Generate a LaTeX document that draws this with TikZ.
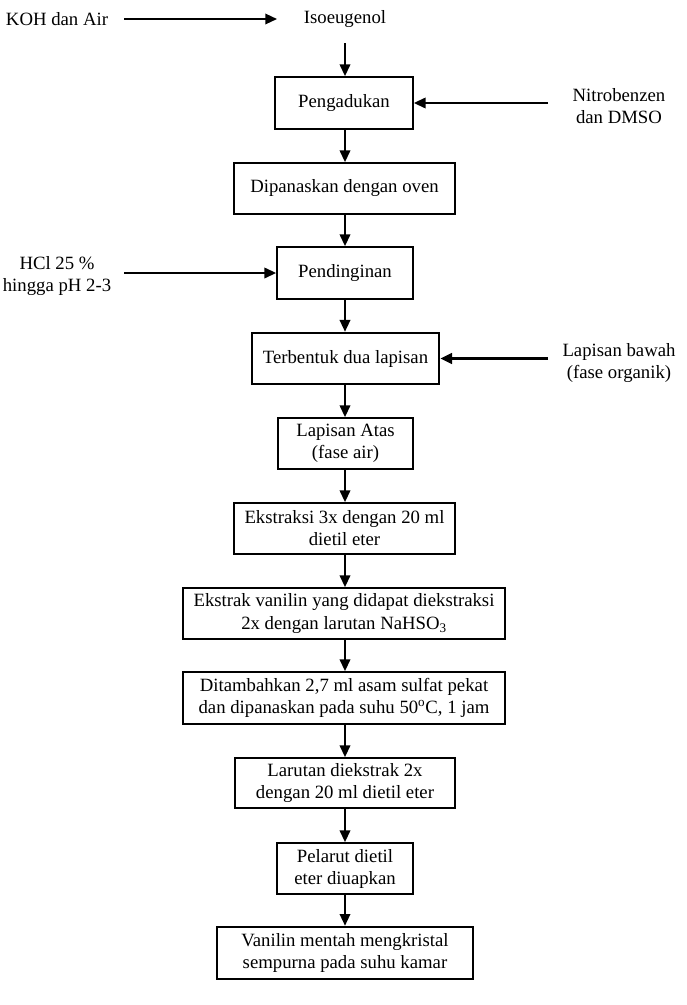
\documentclass[tikz,border=0pt]{standalone}
\usepackage{fontspec}
\setmainfont{Liberation Serif}
\usetikzlibrary{arrows.meta}

\tikzset{
  box/.style={draw, line width=1.5pt, align=center, inner sep=0pt,
    font=\fontsize{16}{18.8}\selectfont},
  boldbox/.style={box, line width=2.2pt},
  lbl/.style={align=center, inner sep=0pt, font=\fontsize{16}{18.8}\selectfont},
  arr/.style={line width=1.5pt, -{Triangle[length=10pt,width=9pt]}},
  boldarr/.style={arr, line width=2.4pt}
}

\begin{document}
\begin{tikzpicture}[x=0.03cm,y=-0.03cm]
    % Frame of the page
    \useasboundingbox (0,0) rectangle (686,1005);

    % Inputs at the top
    \node[lbl] (koh) at (57,19) {KOH dan Air};
    \node[lbl] (iso) at (345,19) {Isoeugenol};
    \coordinate (kohtail) at (124,19);
    \coordinate (kohtip) at (277,19);
    \coordinate (isotail) at (345,43);

    % Main column of steps
    \node[box, minimum width=4.14cm, minimum height=1.56cm] (aduk) at (344,103) {Pengadukan};
    \node[box, minimum width=6.63cm, minimum height=1.53cm] (oven) at (344.5,188.5) {Dipanaskan dengan oven};
    \node[box, minimum width=4.08cm, minimum height=1.56cm] (dingin) at (345,273) {Pendinginan};
    \node[boldbox, minimum width=5.61cm, minimum height=1.53cm] (dualapis) at (345.5,358.5) {Terbentuk dua lapisan};
    \node[box, minimum width=4.05cm, minimum height=1.53cm] (atas) at (345.5,443.5) {Lapisan Atas\\(fase air)};
    \node[box, minimum width=6.63cm, minimum height=1.53cm] (ekstraksi) at (344.5,528.5) {Ekstraksi 3x dengan 20 ml\\dietil eter};
    \node[box, minimum width=9.66cm, minimum height=1.53cm] (bisulfit) at (344,613.5) {Ekstrak vanilin yang didapat diekstraksi\\2x dengan larutan NaHSO\textsubscript{3}};
    \node[box, minimum width=9.66cm, minimum height=1.56cm] (asam) at (344,698) {Ditambahkan 2,7 ml asam sulfat pekat\\dan dipanaskan pada suhu 50\textsuperscript{o}C, 1 jam};
    \node[box, minimum width=6.6cm, minimum height=1.5cm] (larutan) at (345,783) {Larutan diekstrak 2x\\dengan 20 ml dietil eter};
    \node[box, minimum width=4.08cm, minimum height=1.53cm] (uap) at (345,868.5) {Pelarut dietil\\eter diuapkan};
    \node[boldbox, minimum width=7.68cm, minimum height=1.56cm] (kristal) at (345,953) {Vanilin mentah mengkristal\\sempurna pada suhu kamar};

    % Side inputs
    \node[lbl] (nitro) at (619,106) {Nitrobenzen\\dan DMSO};
    \coordinate (nitrotail) at (548,103);
    \node[lbl] (hcl) at (57,276) {HCl 25 \%\\hingga pH 2-3};
    \coordinate (hcltail) at (124,273);
    \node[lbl] (bawah) at (619,363) {Lapisan bawah\\(fase organik)};
    \coordinate (bawahtail) at (548,358.5);

    % Arrows into the column
    \draw[arr] (kohtail) -- (kohtip);
    \draw[arr] (isotail) -- (isotail |- aduk.north);
    \draw[arr] (nitrotail) -- (aduk.east);
    \draw[arr] (hcltail) -- (hcltail -| dingin.west);
    \draw[boldarr] (bawahtail) -- (dualapis.east);

    % Arrows down the column
    \draw[arr] (aduk.south -| isotail) -- (oven.north -| isotail);
    \draw[arr] (oven.south -| isotail) -- (dingin.north -| isotail);
    \draw[arr] (dingin.south -| isotail) -- (dualapis.north -| isotail);
    \draw[arr] (dualapis.south -| isotail) -- (atas.north -| isotail);
    \draw[arr] (atas.south -| isotail) -- (ekstraksi.north -| isotail);
    \draw[arr] (ekstraksi.south -| isotail) -- (bisulfit.north -| isotail);
    \draw[arr] (bisulfit.south -| isotail) -- (asam.north -| isotail);
    \draw[arr] (asam.south -| isotail) -- (larutan.north -| isotail);
    \draw[arr] (larutan.south -| isotail) -- (uap.north -| isotail);
    \draw[arr] (uap.south -| isotail) -- (kristal.north -| isotail);
\end{tikzpicture}
\end{document}
